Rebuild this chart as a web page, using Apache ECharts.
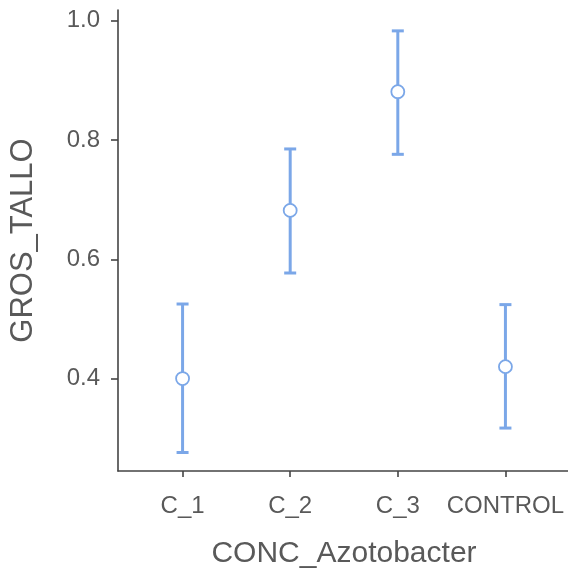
<!DOCTYPE html>
<html><head><meta charset="utf-8">
<script src="https://cdn.jsdelivr.net/npm/echarts@6/dist/echarts.min.js"></script>
<style>html,body{margin:0;padding:0;background:#fff}#c{width:568px;height:571px}</style>
</head><body><div id="c"></div>
<script>
var categories = ['C_1', 'C_2', 'C_3', 'CONTROL'];
var means = [0.400, 0.682, 0.881, 0.420];
var lower = [0.276, 0.577, 0.776, 0.317];
var upper = [0.525, 0.785, 0.983, 0.524];
var yTicks = [0.4, 0.6, 0.8, 1.0];

var blue = '#7ba7e8';
var grey = '#595959';
var font = 'Liberation Sans, Arial, sans-serif';

var errData = categories.map(function (c, i) { return [i + 1, lower[i], upper[i]]; });
var ptData = categories.map(function (c, i) { return [i + 1, means[i]]; });

var chart = echarts.init(document.getElementById('c'), null, { renderer: 'canvas' });
chart.setOption({
  animation: false,
  backgroundColor: '#fff',
  grid: { left: 118, right: -2, top: 10, bottom: 100, containLabel: false, outerBoundsMode: 'none' },
  xAxis: {
    type: 'value', min: 0.4, max: 4.6,
    name: 'CONC_Azotobacter', nameLocation: 'middle', nameGap: 68,
    nameTextStyle: { fontSize: 30, color: grey, fontFamily: font },
    axisLine: { show: true, lineStyle: { color: '#444', width: 1.6 } },
    axisTick: { show: true, length: 6, customValues: [1, 2, 3, 4], lineStyle: { color: '#444', width: 1.6 } },
    axisLabel: { customValues: [1, 2, 3, 4], margin: 23, fontSize: 24, color: grey, fontFamily: font,
      formatter: function (v) { return categories[Math.round(v) - 1] || ''; } },
    splitLine: { show: false }
  },
  yAxis: {
    type: 'value', min: 0.245, max: 1.018,
    name: 'GROS_TALLO', nameLocation: 'middle', nameGap: 79, nameRotate: 90,
    nameTextStyle: { fontSize: 31, color: grey, fontFamily: font },
    axisLine: { show: true, lineStyle: { color: '#444', width: 1.6 } },
    axisTick: { show: true, length: 7, customValues: yTicks, lineStyle: { color: '#444', width: 1.6 } },
    axisLabel: { customValues: yTicks, margin: 18, fontSize: 24, color: grey, fontFamily: font,
      formatter: function (v) { return v.toFixed(1); } },
    splitLine: { show: false }
  },
  series: [
    {
      type: 'custom',
      data: errData,
      renderItem: function (params, api) {
        var x = api.value(0);
        var lo = api.coord([x, api.value(1)]);
        var hi = api.coord([x, api.value(2)]);
        var hw = 6;
        var st = { stroke: blue, lineWidth: 3 };
        return {
          type: 'group',
          children: [
            { type: 'line', shape: { x1: lo[0], y1: lo[1], x2: hi[0], y2: hi[1] }, style: st },
            { type: 'line', shape: { x1: lo[0] - hw, y1: lo[1], x2: lo[0] + hw, y2: lo[1] }, style: st },
            { type: 'line', shape: { x1: hi[0] - hw, y1: hi[1], x2: hi[0] + hw, y2: hi[1] }, style: st }
          ]
        };
      },
      z: 2
    },
    {
      type: 'scatter',
      data: ptData,
      symbol: 'circle',
      symbolSize: 13,
      itemStyle: { color: '#fff', borderColor: blue, borderWidth: 1.8, opacity: 1 },
      z: 3
    }
  ]
});
</script>
</body></html>
